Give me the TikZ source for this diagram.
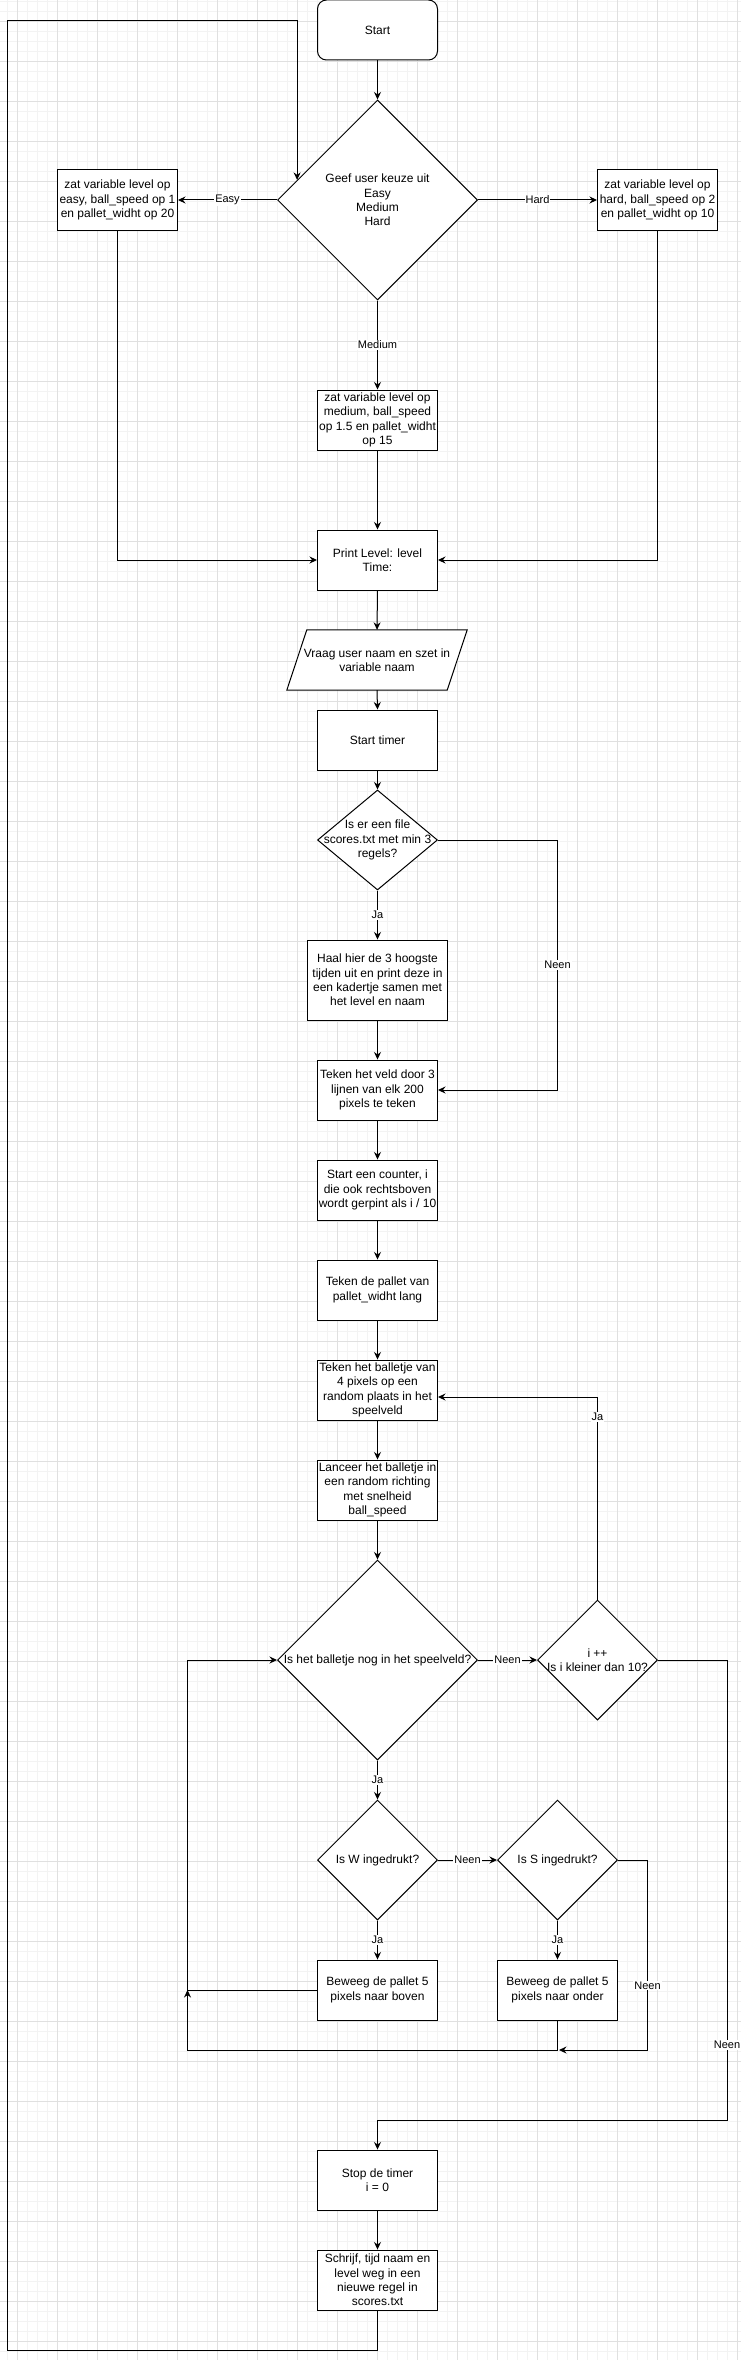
\documentclass[tikz,border=0pt]{standalone}
\usepackage{fontspec}
\setmainfont{Liberation Sans}
\usetikzlibrary{shapes.geometric,arrows.meta,calc}
\definecolor{gmin}{HTML}{F3F3F3}
\definecolor{gmaj}{HTML}{E0E0E0}
\begin{document}
\begin{tikzpicture}[x=1pt,y=-1pt,
  box/.style={draw, line width=1pt, minimum width=120pt, minimum height=60pt, inner sep=1pt, align=center, font=\fontsize{12}{14.4}\selectfont, fill=white},
  dia/.style={draw, line width=1pt, diamond, inner sep=0pt, fill=white},
  dtxt/.style={align=center, font=\fontsize{12}{14.4}\selectfont, inner sep=0pt},
  arr/.style={line width=1pt, -{Stealth[length=7.5pt,width=7pt,inset=2.5pt]}},
  con/.style={line width=1pt},
  lbl/.style={fill=white, inner sep=1pt, font=\fontsize{11}{13}\selectfont}]
\useasboundingbox (0,0) rectangle (741,2360);
\fill[white] (0,0) rectangle (741,2360);
% grid
\foreach \x in {7.3,17.3,...,741} \draw[gmin, line width=1pt] (\x,0) -- (\x,2360);
\foreach \y in {1.3,11.3,...,2360} \draw[gmin, line width=1pt] (0,\y) -- (741,\y);
\foreach \x in {17.3,57.3,...,741} \draw[gmaj, line width=1pt] (\x,0) -- (\x,2360);
\foreach \y in {21.3,61.3,...,2360} \draw[gmaj, line width=1pt] (0,\y) -- (741,\y);

% nodes
\node[box, rounded corners=9pt] (start) at (377.5,30) {Start};
\node[dia, minimum width=200pt, minimum height=200pt, label={[dtxt]center:{Geef user keuze uit\\Easy\\Medium\\Hard}}] (geef) at (377.5,200) {};
\node[box] (easy) at (117.5,200) {zat variable level op\\easy, ball\_speed op 1\\en pallet\_widht op 20};
\node[box] (hard) at (657.5,200) {zat variable level op\\hard, ball\_speed op 2\\en pallet\_widht op 10};
\node[box] (medium) at (377.5,420) {zat variable level op\\medium, ball\_speed\\op 1.5 en pallet\_widht\\op 15};
\node[box] (print) at (377.5,560) {Print Level: level\\Time:};
\node[minimum width=180pt, minimum height=60pt, inner sep=0pt] (vraag) at (377,660) {};
\draw[line width=1pt, fill=white] ($(vraag.north west)+(20,0)$) -- (vraag.north east) -- ($(vraag.south east)+(-20,0)$) -- (vraag.south west) -- cycle;
\node[dtxt] at (vraag.center) {Vraag user naam en szet in\\variable naam};
\node[box] (timer) at (377.5,740) {Start timer};
\node[dia, minimum width=120pt, minimum height=100pt, label={[dtxt]center:{Is er een file\\scores.txt met min 3\\regels?}}] (file) at (377.5,840) {};
\node[box, minimum width=140pt, minimum height=80pt] (haal) at (377.5,980) {Haal hier de 3 hoogste\\tijden uit en print deze in\\een kadertje samen met\\het level en naam};
\node[box] (veld) at (377.5,1090) {Teken het veld door 3\\lijnen van elk 200\\pixels te teken};
\node[box] (counter) at (377.5,1190) {Start een counter, i\\die ook rechtsboven\\wordt gerpint als i / 10};
\node[box] (pallet) at (377.5,1290) {Teken de pallet van\\pallet\_widht lang};
\node[box] (bal) at (377.5,1390) {Teken het balletje van\\4 pixels op een\\random plaats in het\\speelveld};
\node[box] (lanceer) at (377.5,1490) {Lanceer het balletje in\\een random richting\\met snelheid\\ball\_speed};
\node[dia, minimum width=200pt, minimum height=200pt, label={[dtxt]center:{Is het balletje nog in het speelveld?}}] (speel) at (377.5,1660) {};
\node[dia, minimum width=120pt, minimum height=120pt, label={[dtxt]center:{i ++\\Is i kleiner dan 10?}}] (ikl) at (597.5,1660) {};
\node[dia, minimum width=120pt, minimum height=120pt, label={[dtxt]center:{Is W ingedrukt?}}] (w) at (377.5,1860) {};
\node[dia, minimum width=120pt, minimum height=120pt, label={[dtxt]center:{Is S ingedrukt?}}] (s) at (557.5,1860) {};
\node[box] (boven) at (377.5,1990) {Beweeg de pallet 5\\pixels naar boven};
\node[box] (onder) at (557.5,1990) {Beweeg de pallet 5\\pixels naar onder};
\node[box] (stop) at (377.5,2180) {Stop de timer\\i = 0};
\node[box] (schrijf) at (377.5,2280) {Schrijf, tijd naam en\\level weg in een\\nieuwe regel in\\scores.txt};

% helper coordinates
\coordinate (cF) at (557.5,0);
\coordinate (balin) at ($(bal.east)+(0,7)$);
\coordinate (k1) at (727,2120);
\coordinate (cC) at (187.5,0);
\coordinate (dD) at (0,2050);
\coordinate (cE) at (647.5,0);
\coordinate (sN) at (559,2050);
\coordinate (lb) at (7.5,2350);
\coordinate (lt) at (7.5,20.3);
\coordinate (gin) at ($(geef.west)!0.2!(geef.north)$);

% connectors
\draw[arr] (start) -- (geef);
\draw[arr] (geef.west) -- node[lbl]{Easy} (easy.east);
\draw[arr] (geef.east) -- node[lbl]{Hard} (hard.west);
\draw[arr] (geef.south) -- node[lbl]{Medium} (medium.north);
\draw[arr] (medium) -- (print);
\draw[arr] (easy.south) |- (print.west);
\draw[arr] (hard.south) |- (print.east);
\draw[arr] (print.south) -- (vraag.north);
\draw[arr] (vraag.south) -- (timer.north);
\draw[arr] (timer.south) -- (file.north);
\draw[arr] (file.south) -- node[lbl]{Ja} (haal.north);
\draw[arr] (file.east) -- (file.east -| cF) -- node[lbl]{Neen} (veld.east -| cF) -- (veld.east);
\draw[arr] (haal) -- (veld);
\draw[arr] (veld) -- (counter);
\draw[arr] (counter) -- (pallet);
\draw[arr] (pallet) -- (bal);
\draw[arr] (bal) -- (lanceer);
\draw[arr] (lanceer.south) -- (speel.north);
\draw[arr] (speel.east) -- node[lbl]{Neen} (ikl.west);
\draw[arr] (ikl.north) -- node[lbl,pos=0.9]{Ja} (ikl.north |- balin) -- (balin);
\draw[arr] (ikl.east) -- (ikl.east -| k1) -- node[lbl,pos=0.837]{Neen} (k1) -- (k1 -| stop.north) -- (stop.north);
\draw[arr] (speel.south) -- node[lbl]{Ja} (w.north);
\draw[arr] (w.east) -- node[lbl]{Neen} (s.west);
\draw[arr] (w.south) -- node[lbl]{Ja} (boven.north);
\draw[arr] (s.south) -- node[lbl]{Ja} (onder.north);
\draw[arr] (boven.west) -- (boven.west -| cC) -- (speel.west -| cC) -- (speel.west);
\draw[arr] (onder.south) -- (onder.south |- dD) -- (dD -| cC) -- (boven.west -| cC);
\draw[arr] (s.east) -- (s.east -| cE) -- node[lbl,pos=0.66]{Neen} (cE |- dD) -- (sN);
\draw[arr] (stop) -- (schrijf);
\draw[arr] (schrijf.south) -- (schrijf.south |- lb) -- (lb) -- (lt) -- (lt -| gin) -- (gin);
\end{tikzpicture}
\end{document}
